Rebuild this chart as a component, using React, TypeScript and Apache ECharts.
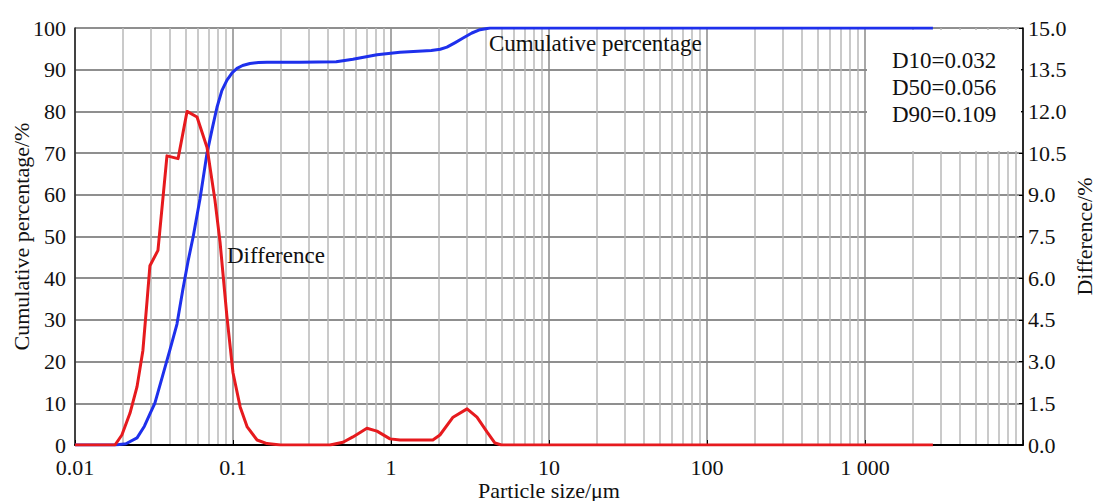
import React, { useEffect, useRef } from "react";
import * as echarts from "echarts";

// Cumulative percentage (left axis, %) vs particle size (µm)
const cumSize = [0.01, 0.018, 0.021, 0.0247, 0.0275, 0.03, 0.032, 0.0361, 0.04, 0.0442, 0.048, 0.0519, 0.056, 0.0618, 0.0685, 0.074, 0.0792, 0.085, 0.0916, 0.099, 0.106, 0.115, 0.128, 0.145, 0.164, 0.265, 0.45, 0.574, 0.815, 1.14, 1.8, 2.05, 2.26, 2.55, 2.86, 3.25, 3.66, 4.23, 2690];
const cumValue = [0, 0, 0.3, 1.7, 4.5, 7.7, 10, 17, 23, 29, 37, 44, 50, 59, 70, 76, 81, 85, 87.5, 89.3, 90.3, 91.0, 91.5, 91.7, 91.8, 91.8, 91.9, 92.5, 93.6, 94.2, 94.6, 94.9, 95.4, 96.5, 97.6, 98.8, 99.6, 100, 100];

// Difference (right axis, %) vs particle size (µm)
const diffSize = [0.01, 0.0179, 0.0198, 0.0223, 0.0247, 0.0269, 0.0286, 0.0298, 0.0335, 0.0382, 0.0449, 0.0512, 0.0592, 0.0685, 0.0769, 0.0828, 0.0916, 0.1, 0.111, 0.123, 0.142, 0.164, 0.2, 0.411, 0.497, 0.574, 0.704, 0.815, 0.986, 1.14, 1.84, 2.04, 2.47, 3.03, 3.5, 4.05, 4.55, 5, 2690];
const diffValue = [0, 0, 0.36, 1.15, 2.1, 3.4, 5.2, 6.45, 7.0, 10.4, 10.3, 12.0, 11.8, 10.7, 8.8, 7.3, 4.6, 2.6, 1.37, 0.65, 0.18, 0.05, 0, 0, 0.1, 0.29, 0.6, 0.5, 0.22, 0.18, 0.18, 0.36, 1.0, 1.3, 1.0, 0.47, 0.07, 0, 0];

const decades = [0.01, 0.1, 1, 10, 100, 1000];
const minorMultipliers = [2, 3, 4, 5, 6, 7, 8, 9];
const dLabels = ["D10=0.032", "D50=0.056", "D90=0.109"];

const FONT = "'Liberation Serif', serif";

export default function App() {
  const ref = useRef<HTMLDivElement>(null);
  useEffect(() => {
    document.body.style.margin = "0";
    document.body.style.overflow = "hidden";
    document.documentElement.style.overflow = "hidden";
    const chart = echarts.init(ref.current!, null, { renderer: "svg" });
    const minorLines: any[] = [];
    decades.forEach((d) =>
      minorMultipliers.forEach((m) => minorLines.push({ xAxis: Number((d * m).toPrecision(6)) }))
    );
    const fmtX = (v: number) => {
      const n = Number(v.toPrecision(6));
      if (n >= 10000) return "";
      if (n === 1000) return "1 000";
      return String(n);
    };
    chart.setOption({
      animation: false,
      grid: { left: 75, right: 74, top: 28, bottom: 56, containLabel: false, outerBoundsMode: "none" },
      xAxis: {
        type: "log",
        logBase: 10,
        min: 0.01,
        max: 10000,
        name: "Particle size/μm",
        nameLocation: "middle",
        nameGap: 34,
        nameMoveOverlap: false,
        nameTextStyle: { fontFamily: FONT, fontSize: 22, color: "#111", lineHeight: 22 },
        axisLine: { show: true, lineStyle: { color: "#000", width: 2 } },
        axisTick: { show: true, inside: true, length: 5, lineStyle: { color: "#000" } },
        axisLabel: { fontFamily: FONT, fontSize: 22, lineHeight: 22, color: "#111", margin: 11, formatter: fmtX },
        splitLine: { show: true, lineStyle: { color: "#8a8a8a", width: 1.5 } },
        minorTick: { show: false },
      },
      yAxis: [
        {
          type: "value",
          min: 0,
          max: 100,
          interval: 10,
          name: "Cumulative percentage/%",
          nameLocation: "middle",
          nameRotate: 90,
          nameGap: 43,
          nameMoveOverlap: false,
          nameTextStyle: { fontFamily: FONT, fontSize: 22, color: "#111", lineHeight: 22 },
          axisLine: { show: true, lineStyle: { color: "#222", width: 1.5 } },
          axisTick: { show: false },
          axisLabel: { fontFamily: FONT, fontSize: 22, lineHeight: 22, color: "#111", margin: 9 },
          splitLine: { show: true, lineStyle: { color: "#8f8f8f", width: 2 } },
        },
        {
          type: "value",
          min: 0,
          max: 15,
          interval: 1.5,
          position: "right",
          name: "Difference/%",
          nameLocation: "middle",
          nameRotate: 90,
          nameGap: 50,
          nameMoveOverlap: false,
          nameTextStyle: { fontFamily: FONT, fontSize: 22, color: "#111", lineHeight: 22 },
          axisLine: { show: true, lineStyle: { color: "#000", width: 1.5 } },
          axisTick: { show: true, inside: true, length: 4, lineStyle: { color: "#000" } },
          axisLabel: {
            fontFamily: FONT,
            fontSize: 22,
            lineHeight: 22,
            color: "#111",
            margin: 5,
            formatter: (v: number) => v.toFixed(1),
          },
          splitLine: { show: false },
        },
      ],
      graphic: [
        { type: "rect", z: 1, shape: { x: 867, y: 30, width: 154, height: 121 }, style: { fill: "#fff" } },
        {
          type: "text",
          z: 5,
          left: 489,
          top: 32,
          style: { text: "Cumulative percentage", font: `23px ${FONT}`, fill: "#111" },
        },
        {
          type: "text",
          z: 5,
          left: 227,
          top: 244,
          style: { text: "Difference", font: `23px ${FONT}`, fill: "#111" },
        },
        ...dLabels.map((t, i) => ({
          type: "text",
          z: 5,
          left: 892,
          top: 49 + i * 27,
          style: { text: t, font: `23px ${FONT}`, fill: "#111" },
        })),
      ],
      series: [
        {
          type: "line",
          name: "grid",
          data: [],
          silent: true,
          z: 0,
          markLine: {
            silent: true,
            symbol: "none",
            label: { show: false },
            lineStyle: { color: "#b8b8b8", width: 1.5, type: "solid" },
            data: minorLines,
            z: 0,
          },
        },
        {
          type: "line",
          name: "Cumulative percentage",
          yAxisIndex: 0,
          data: cumSize.map((x, i) => [x, cumValue[i]]),
          showSymbol: false,
          smooth: false,
          lineStyle: { color: "#1e30ec", width: 3, join: "round" },
          itemStyle: { color: "#1e30ec" },
          z: 3,
        },
        {
          type: "line",
          name: "Difference",
          yAxisIndex: 1,
          data: diffSize.map((x, i) => [x, diffValue[i]]),
          showSymbol: false,
          smooth: false,
          lineStyle: { color: "#e61a1e", width: 3, join: "round" },
          itemStyle: { color: "#e61a1e" },
          z: 4,
        },
      ],
    });
    return () => chart.dispose();
  }, []);
  return (
    <div
      ref={ref}
      style={{ position: "fixed", left: 0, top: 0, width: 1097, height: 501, background: "#fff" }}
    />
  );
}
